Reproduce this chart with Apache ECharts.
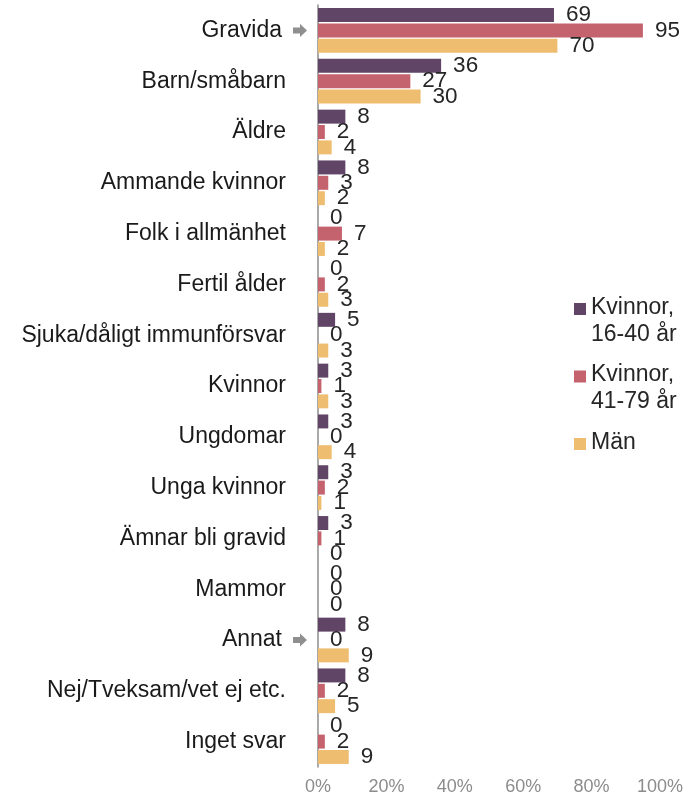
<!DOCTYPE html>
<html>
<head>
<meta charset="utf-8">
<script src="https://cdn.jsdelivr.net/npm/echarts@6/dist/echarts.min.js"></script>
<style>html,body{margin:0;padding:0;background:#fff;}#c{width:698px;height:796px;}</style>
</head>
<body>
<div id="c"></div>
<script>
const categories = ['Gravida','Barn/småbarn','Äldre','Ammande kvinnor','Folk i allmänhet','Fertil ålder','Sjuka/dåligt immunförsvar','Kvinnor','Ungdomar','Unga kvinnor','Ämnar bli gravid','Mammor','Annat','Nej/Tveksam/vet ej etc.','Inget svar'];
const arrowCategories = ['Gravida','Annat'];
const seriesNames = ['Kvinnor,\n16-40 år','Kvinnor,\n41-79 år','Män'];
const women1640 = [69,36,8,8,0,0,5,3,3,3,3,0,8,8,0];
const women4179 = [95,27,2,3,7,2,0,1,0,2,1,0,0,2,2];
const men = [70,30,4,2,2,3,3,3,4,1,0,0,9,5,9];
const xTicks = [0,20,40,60,80,100];
const colors = ['#604566','#c4626d','#efbd70'];

const font = 'Liberation Sans, Arial, sans-serif';
const chart = echarts.init(document.getElementById('c'));
const valueSets = [women1640, women4179, men];
const topIcon = 'path://M0,0h12v12h-12z M0,36h0.01v0.01h-0.01z';
const arrowSvg = 'data:image/svg+xml;charset=utf-8,' + encodeURIComponent(
  '<svg xmlns="http://www.w3.org/2000/svg" width="14" height="13" viewBox="0 0 14 13">' +
  '<path d="M0,3.5H7V0L14,6.5L7,13V9.5H0Z" fill="#8f8f8f"/></svg>');
const arrowImg = new Image();
arrowImg.src = arrowSvg;

function draw() {
chart.setOption({
  animation: false,
  textStyle: {fontFamily: font},
  grid: {left: 318, right: 38, top: 5, bottom: 29, containLabel: false},
  legend: {
    orient: 'vertical', left: 574, top: 294, padding: 0,
    itemWidth: 12, itemHeight: 36, itemGap: 13.5,
    textStyle: {fontSize: 23, color: '#262626', lineHeight: 27, fontFamily: font},
    formatter: name => name.indexOf('\n') < 0 ? name + '\n ' : name,
    data: seriesNames.map(n => ({name: n, icon: topIcon}))
  },
  xAxis: {
    type: 'value', min: xTicks[0], max: xTicks[xTicks.length-1], interval: 20,
    axisLine: {show: false}, axisTick: {show: false}, splitLine: {show: false},
    axisLabel: {formatter: '{value}%', color: '#8c8c8c', fontSize: 18, margin: 11, fontFamily: font}
  },
  yAxis: {
    type: 'category', inverse: true, data: categories,
    axisLine: {show: true, lineStyle: {color: '#8c8c8c', width: 1.5}},
    axisTick: {show: false},
    axisLabel: {
      margin: 11, color: '#1a1a1a', fontSize: 23, fontFamily: font,
      formatter: v => arrowCategories.includes(v) ? '{t|' + v + '}{g|}{a|}' : '{t|' + v + '}{b|}',
      rich: {
        t: {fontSize: 23, color: '#1a1a1a', fontFamily: font},
        g: {width: 11},
        a: {width: 14, height: 13, backgroundColor: {image: arrowImg}},
        b: {width: 21}
      }
    }
  },
  series: seriesNames.map((n, i) => ({
    name: n, type: 'bar', data: valueSets[i],
    barGap: '10%', barCategoryGap: '12%',
    itemStyle: {color: colors[i]},
    label: {show: true, position: 'right', distance: 12, fontSize: 22.5, color: '#262626', fontFamily: font}
  }))
});
}
draw();
arrowImg.onload = draw;
</script>
</body>
</html>
